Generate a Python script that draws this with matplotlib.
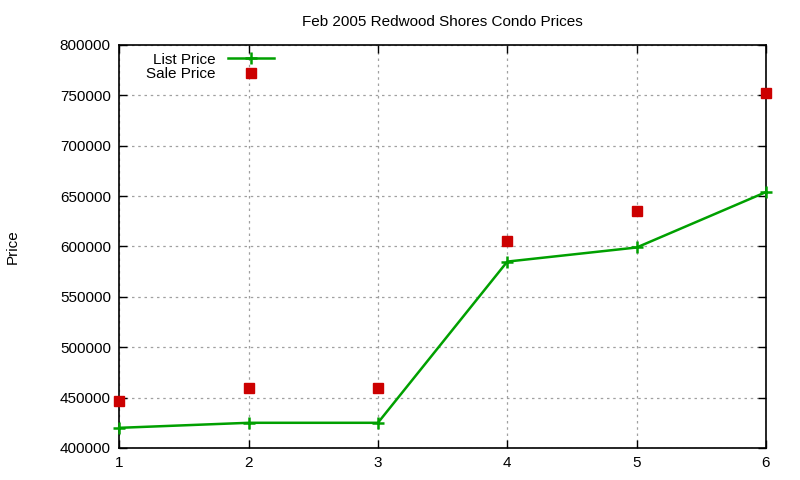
import matplotlib
matplotlib.use('Agg')
import matplotlib.pyplot as plt

plt.rcParams['font.family'] = ['Liberation Sans', 'DejaVu Sans']

# datos
list_x = [1, 2, 3, 4, 5, 6]
list_price = [420000, 425000, 425000, 585000, 599000, 654000]
sale_x = [1, 2, 3, 4, 5, 6]
sale_price = [447000, 460000, 460000, 605000, 635000, 752000]
x_ticks = [1, 2, 3, 4, 5, 6]
y_ticks = list(range(400000, 800001, 50000))

fig = plt.figure(figsize=(8, 4.8), dpi=100)
ax = fig.add_axes([0.149, 0.0667, 0.8085, 0.8396])

ax.plot(list_x, list_price, '-', color='#00a000', linewidth=1.8,
        marker='+', markersize=9, markeredgewidth=1.8, label='List Price',
        clip_on=False, zorder=3)
ax.plot(sale_x, sale_price, 's', color='#cc0000', markersize=6.5,
        linestyle='none', label='Sale Price', clip_on=False, zorder=3)

ax.set_xlim(1, 6)
ax.set_ylim(400000, 800000)
ax.set_xticks(x_ticks)
ax.set_yticks(y_ticks)
ax.tick_params(direction='in', length=6, width=1, labelsize=11,
               top=True, right=True, pad=6)
ax.grid(True, color='#a0a0a0', linestyle=(0, (2, 3)), linewidth=0.9)
for s in ax.spines.values():
    s.set_linewidth(1.2)

ax.set_title('Feb 2005 Redwood Shores Condo Prices', fontsize=11, pad=14)
ax.set_ylabel('Price', fontsize=11)
ax.yaxis.set_label_coords(-0.153, 0.5)

leg = ax.legend(loc='upper left', frameon=False, markerfirst=False,
                fontsize=11, handlelength=3, borderaxespad=0.1,
                labelspacing=0.05, bbox_to_anchor=(0.03, 1.0))

plt.savefig('out.png', dpi=100)
